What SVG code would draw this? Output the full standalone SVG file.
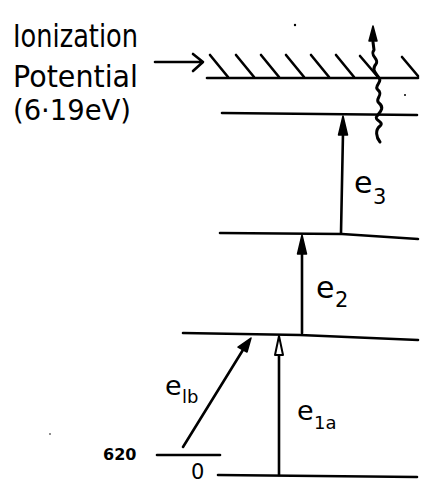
<svg xmlns="http://www.w3.org/2000/svg" width="425" height="485" viewBox="0 0 425 485">
<defs>
<style>
.ln{fill:none;stroke:#000;stroke-width:2.6;stroke-linecap:round;stroke-linejoin:round}
.wv{fill:none;stroke:#000;stroke-width:3;stroke-linecap:round;stroke-linejoin:round}
.hd{fill:#000;stroke:#000;stroke-width:1.5;stroke-linejoin:round}
.op{fill:#fff;stroke:#000;stroke-width:2;stroke-linejoin:round}
.t{font-family:"DejaVu Sans","Liberation Sans",sans-serif;fill:#000}
.lab{font-size:30px}
.sub{font-size:21px}
</style>
</defs>
<rect width="425" height="485" fill="#fff"/>
<g id="ionization-label">
<text class="t" x="13" y="47" font-size="32" textLength="125" lengthAdjust="spacingAndGlyphs">Ionization</text>
<text class="t" x="13" y="87" font-size="31" textLength="125" lengthAdjust="spacingAndGlyphs">Potential</text>
<text class="t" x="13" y="120" font-size="29" textLength="118" lengthAdjust="spacingAndGlyphs">(6·19eV)</text>
</g>
<g id="ionization-level">
<path class="ln" d="M207 78 L418 78"/>
<path class="ln" d="M210 55 L228 77 M236 55 L254 77 M261 55 L279 77 M286 55 L304 77 M311 55 L329 77 M336 55 L354 77 M360 56 L378 77 M402 57 L418 76"/>
</g>
<g id="level-4"><path class="ln" d="M222 113 L417 115"/></g>
<g id="level-3"><path class="ln" d="M220 233 L342 234 L418 239"/></g>
<g id="level-1"><path class="ln" d="M183 333 L300 335 L418 340"/></g>
<g id="level-620">
<path class="ln" d="M157 455 L220 455"/>
<text class="t" x="103" y="460" font-size="16" font-weight="bold">620</text>
</g>
<g id="level-0">
<path class="ln" d="M218 475 L417 477"/>
<text class="t" x="191" y="479" font-size="21">0</text>
</g>
<g id="connectors">
<path class="ln" d="M155 62 L202 62 M193 54 L203 62 L193 71"/>
<path class="ln" d="M183 447 L246 345"/>
<path class="hd" d="M251 338 L238 347 L247 352 Z"/>
<path class="ln" d="M279 475 L279 355"/>
<path class="op" d="M279 336 L275 355 L283 355 Z"/>
<path class="ln" d="M302 333 L302 252"/>
<path class="hd" d="M302 235 L297.5 254 L306.5 254 Z"/>
<path class="ln" d="M341 233 L343 133"/>
<path class="hd" d="M343 116 L338.5 135 L347.5 135 Z"/>
<path class="wv" d="M380 142 C376 137 375 130 380 126 C385 122 373 120 377 116 C380 112 385 108 379 103 C374 99 384 95 378 90 C373 86 383 82 379 78 C376 73 371 70 376 64 C380 59 369 56 374 50 L373 42"/>
<path class="hd" d="M373 26 L369 41 L377 41 Z"/>
</g>
<g id="labels">
<text class="t lab" x="354" y="193">e</text><text class="t sub" x="373" y="204">3</text>
<text class="t lab" x="316" y="298">e</text><text class="t sub" x="335" y="307">2</text>
<text class="t" x="165" y="395" font-size="27">e</text><text class="t" x="182" y="403" font-size="18">lb</text>
<text class="t" x="297" y="420" font-size="27">e</text><text class="t" x="314" y="429" font-size="18">1a</text>
</g>
<g id="specks">
<circle cx="295" cy="25" r="1.2" fill="#000"/>
<circle cx="405" cy="95" r="1" fill="#000"/>
<circle cx="50" cy="434" r="0.8" fill="#000"/>
</g>
</svg>
